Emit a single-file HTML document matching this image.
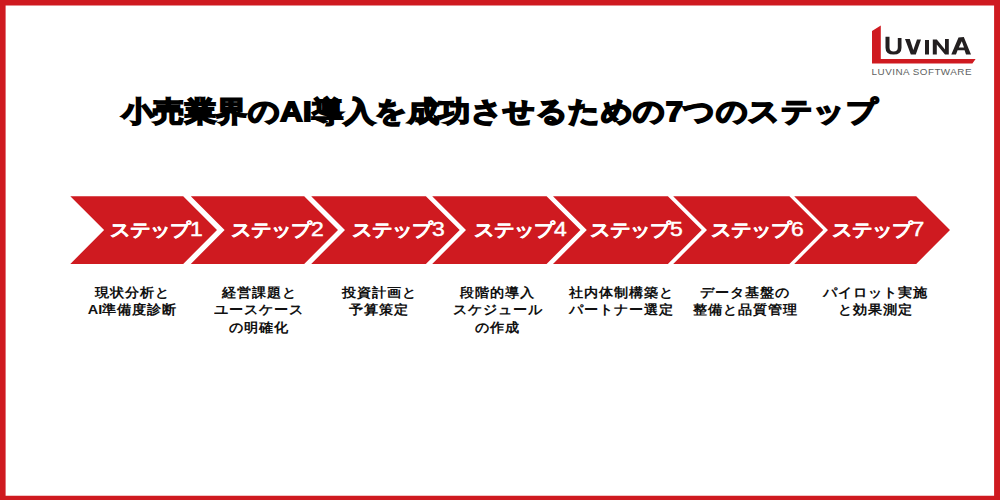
<!DOCTYPE html>
<html><head><meta charset="utf-8">
<style>
html,body{margin:0;padding:0;}
body{width:1000px;height:500px;position:relative;overflow:hidden;background:#fff;font-family:"Liberation Sans",sans-serif;}
.title{position:absolute;left:0;width:1000px;top:89.5px;transform:scaleY(0.9);text-align:center;font-size:31px;letter-spacing:0.5px;font-weight:900;color:#000;line-height:44px;white-space:nowrap;-webkit-text-stroke:2px #000;}
.lbl{position:absolute;top:214px;font-size:20px;letter-spacing:0px;transform:scaleY(0.88);-webkit-text-stroke:0.4px #fff;font-weight:700;color:#fff;line-height:32px;white-space:nowrap;text-align:center;}
.desc{position:absolute;top:284px;transform:scaleY(0.92);transform-origin:50% 0;width:200px;margin-left:-100px;text-align:center;font-size:14.5px;font-weight:700;color:#111;line-height:18.8px;white-space:nowrap;}
.n{font-size:23px;font-weight:400;line-height:10px;-webkit-text-stroke:0.5px #fff;}
</style></head><body>
<svg style="position:absolute;left:0;top:0" width="1000" height="500"><path fill="#cf1a20" fill-rule="evenodd" d="M0,0H1000V500H0Z M5.6,5.6V495.7H994.1V5.6Z"/></svg>

<svg style="position:absolute;left:0;top:0" width="1000" height="500">
  <g fill="#cf1a20">
    <polygon points="70.3,196.3 183.2,196.3 217.0,230.1 183.2,263.9 70.3,263.9 104.1,230.1"/>
    <polygon points="190.8,196.3 304.2,196.3 338.0,230.1 304.2,263.9 190.8,263.9 224.6,230.1"/>
    <polygon points="311.2,196.3 425.9,196.3 459.7,230.1 425.9,263.9 311.2,263.9 345.0,230.1"/>
    <polygon points="432.2,196.3 546.6,196.3 580.4,230.1 546.6,263.9 432.2,263.9 466.0,230.1"/>
    <polygon points="553.0,196.3 667.9,196.3 701.7,230.1 667.9,263.9 553.0,263.9 586.8,230.1"/>
    <polygon points="673.2,196.3 789.4,196.3 823.2,230.1 789.4,263.9 673.2,263.9 707.0,230.1"/>
    <polygon points="794.2,196.3 916.2,196.3 950.0,230.1 916.2,263.9 794.2,263.9 828.0,230.1"/>
  </g>
</svg>


<svg style="position:absolute;left:0;top:0" width="1000" height="100">
  <polygon fill="#cf1a20" points="872,31 880.8,25.5 880.8,59 975.6,59 972.4,63.6 872,63.6"/>
  <g fill="#231f20">
    <path d="M885.5,36.8 L889.5,36.8 L889.5,47.5 Q889.5,51.4 893.6,51.4 Q897.8,51.4 897.8,47.5 L897.8,38 L901.5,38 L901.5,47.8 Q901.5,54.6 893.6,54.6 Q885.5,54.6 885.5,47.8 Z"/>
    <polygon points="905,39 909.8,39 913.3,50 917,39.6 921,39.6 915.8,54.5 910.8,54.5"/>
    <rect x="925" y="40" width="4" height="14.5"/>
    <polygon points="932.8,39.5 936.8,39.5 945,49.5 945,39 948.8,39 948.8,54.5 945,54.5 936.8,44.5 936.8,54.5 932.8,54.5"/>
    <path fill-rule="evenodd" d="M951.3,54.5 L958.5,37.6 L963.8,37 L971,54.5 L966,54.5 L964.6,50.2 L957.6,50.2 L956,54.5 Z M958.8,47.4 L964,47.4 L961.8,41.2 Z"/>
  </g>
  <text x="871.6" y="75" font-family="Liberation Sans" font-size="9.86" letter-spacing="0.48" fill="#5e5f61">LUVINA SOFTWARE</text>
</svg>

<div class="title">小売業界のAI導入を成功させるための7つのステップ</div>

<div class="lbl" style="left:110px">ステップ<span class="n">1</span></div>
<div class="lbl" style="left:231px">ステップ<span class="n">2</span></div>
<div class="lbl" style="left:352px">ステップ<span class="n">3</span></div>
<div class="lbl" style="left:474px">ステップ<span class="n">4</span></div>
<div class="lbl" style="left:590px">ステップ<span class="n">5</span></div>
<div class="lbl" style="left:711px">ステップ<span class="n">6</span></div>
<div class="lbl" style="left:831.5px">ステップ<span class="n">7</span></div>

<div class="desc" style="left:132.5px">現状分析と<br>AI準備度診断</div>
<div class="desc" style="left:259px">経営課題と<br>ユースケース<br>の明確化</div>
<div class="desc" style="left:379px">投資計画と<br>予算策定</div>
<div class="desc" style="left:497.5px">段階的導入<br>スケジュール<br>の作成</div>
<div class="desc" style="left:621.3px">社内体制構築と<br>パートナー選定</div>
<div class="desc" style="left:745.2px">データ基盤の<br>整備と品質管理</div>
<div class="desc" style="left:875.5px">パイロット実施<br>と効果測定</div>

</body></html>
